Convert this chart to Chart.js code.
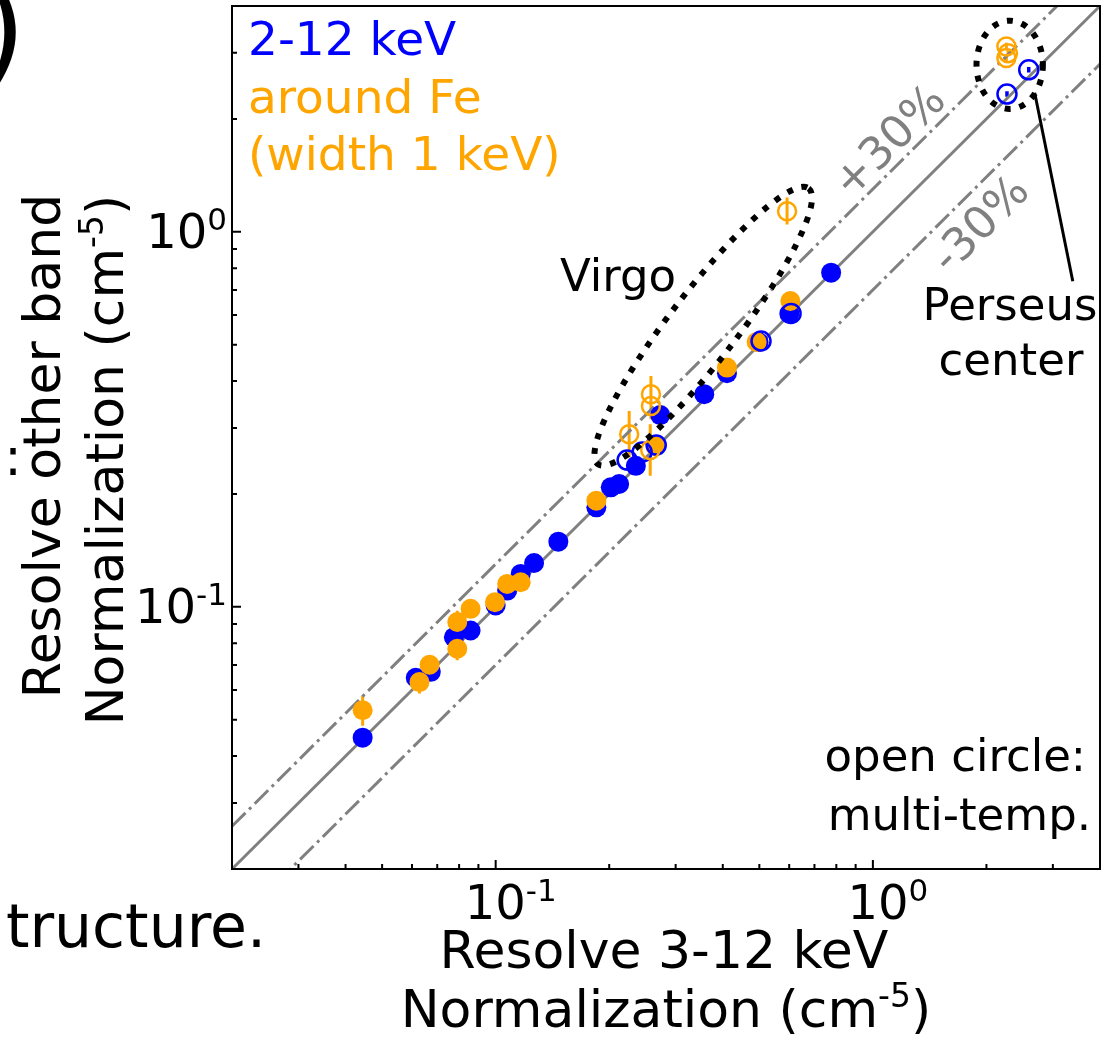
<!DOCTYPE html>
<html>
<head>
<meta charset="utf-8">
<script src="https://cdn.jsdelivr.net/npm/chart.js@4.4.1/dist/chart.umd.min.js"></script>
<style>
  html, body { margin: 0; padding: 0; background: #fff; }
  #wrap { width: 1105px; height: 1040px; position: relative; }
</style>
</head>
<body>
<div id="wrap"><canvas id="chart" width="1105" height="1040"></canvas></div>
<script>
// ---- data (x: 3-12 keV norm, y: other band norm) ----
const blueFilledX = [0.0444, 0.0614, 0.0673, 0.0775, 0.0858, 0.1000, 0.1073, 0.1165, 0.1264, 0.1466,
                     0.1849, 0.2019, 0.2125, 0.2353, 0.2731, 0.3573, 0.4104, 0.4978, 0.6005, 0.7750];
const blueFilledY = [0.0448, 0.0647, 0.0671, 0.0830, 0.0865, 0.1008, 0.1105, 0.1224, 0.1309, 0.1492,
                     0.1842, 0.2083, 0.2126, 0.2377, 0.3245, 0.3690, 0.4196, 0.5084, 0.6050, 0.7781];

const orangeFilledX = [0.0444, 0.0628, 0.0668, 0.0791, 0.0858, 0.0791, 0.0996, 0.1073, 0.1165, 0.1849, 0.2649, 0.4104, 0.4918, 0.6043];
const orangeFilledY = [0.0530, 0.0630, 0.0701, 0.0911, 0.0988, 0.0773, 0.1029, 0.1151, 0.1163, 0.1919, 0.2683, 0.4345, 0.5084, 0.6537];
const orangeFilledLo = [0.0482, 0.0587, 0.0680, 0.0848, 0.0960, 0.0720, 0.1000, 0.1120, 0.1130, 0.1870, 0.2600, 0.4230, 0.4950, 0.6370];
const orangeFilledHi = [0.0580, 0.0676, 0.0722, 0.0977, 0.1017, 0.0820, 0.1058, 0.1180, 0.1196, 0.1970, 0.2770, 0.4460, 0.5220, 0.6710];

const blueOpenX = [0.2231, 0.2445, 0.2665, 0.5052, 0.6069, 2.267, 2.589];
const blueOpenY = [0.2462, 0.2586, 0.2700, 0.5115, 0.6058, 2.330, 2.704];
const blueOpenLo = [0.2462, 0.2586, 0.2700, 0.5115, 0.6058, 2.290, 2.660];
const blueOpenHi = [0.2462, 0.2586, 0.2700, 0.5115, 0.6058, 2.370, 2.750];

const orangeOpenX = [0.2580, 0.2580, 0.2259, 0.2569, 0.5922, 2.259, 2.281, 2.259];
const orangeOpenY = [0.3690, 0.3434, 0.2887, 0.2618, 1.134, 3.119, 2.995, 2.905];
const orangeOpenLo = [0.3550, 0.3166, 0.2503, 0.2236, 1.0457, 3.050, 2.940, 2.850];
const orangeOpenHi = [0.4127, 0.3600, 0.3330, 0.3070, 1.234, 3.190, 3.050, 2.960];

const refLineX = [0.02, 4];
const refFactors = [1.0, 1.3, 0.7];

const axisMin = 0.02, axisMax = 4;
const majorTicks = [0.1, 1];
const majorExps = ['-1', '0'];

// annotation geometry in data coordinates (centre) and decades (half axes)
const virgoRing = { x: 0.355, y: 0.56, a: 0.46, b: 0.09, deg: -52.6 };
const perseusRing = { x: 2.305, y: 2.788, a: 0.088, b: 0.117, deg: 0 };
const pointerX = [2.685, 3.388];
const pointerY = [2.349, 0.738];

const FONT = '"DejaVu Sans", Verdana, sans-serif';
const BLUE = '#0000ff', ORANGE = '#ffa500', GREY = '#808080';

function pts(xs, ys) { return xs.map((x, i) => ({ x: x, y: ys[i] })); }

// draw text runs with superscripts
function drawRich(ctx, parts, x, y, size, align) {
  const supSize = Math.round(size * 0.64);
  let total = 0;
  const widths = parts.map(p => {
    ctx.font = (p.sup ? supSize : size) + 'px ' + FONT;
    const w = ctx.measureText(p.t).width;
    total += w;
    return w;
  });
  let cx = x;
  if (align === 'center') cx = x - total / 2;
  if (align === 'right') cx = x - total;
  ctx.textAlign = 'left';
  ctx.textBaseline = 'alphabetic';
  parts.forEach((p, i) => {
    ctx.font = (p.sup ? supSize : size) + 'px ' + FONT;
    ctx.fillText(p.t, cx, p.sup ? y - size * 0.38 : y);
    cx += widths[i];
  });
}

function drawErrors(chart, xs, lo, hi, color, width) {
  const sx = chart.scales.x, sy = chart.scales.y, ctx = chart.ctx, a = chart.chartArea;
  ctx.save();
  ctx.beginPath();
  ctx.rect(a.left, a.top, a.right - a.left, a.bottom - a.top);
  ctx.clip();
  ctx.strokeStyle = color;
  ctx.lineWidth = width;
  ctx.beginPath();
  xs.forEach((x, i) => {
    if (hi[i] === lo[i]) return;
    const px = sx.getPixelForValue(x);
    ctx.moveTo(px, sy.getPixelForValue(lo[i]));
    ctx.lineTo(px, sy.getPixelForValue(hi[i]));
  });
  ctx.stroke();
  ctx.restore();
}

function drawRing(chart, r) {
  const sx = chart.scales.x, sy = chart.scales.y, ctx = chart.ctx;
  const decX = sx.getPixelForValue(1) - sx.getPixelForValue(0.1);
  const cx = sx.getPixelForValue(r.x), cy = sy.getPixelForValue(r.y);
  ctx.save();
  ctx.strokeStyle = '#000';
  ctx.lineWidth = 6;
  ctx.setLineDash([6, 9]);
  ctx.beginPath();
  ctx.ellipse(cx, cy, r.a * decX, r.b * decX, r.deg * Math.PI / 180, 0, Math.PI * 2);
  ctx.stroke();
  ctx.restore();
}

const errorBars = {
  id: 'errorBars',
  beforeDatasetsDraw(chart) {
    drawErrors(chart, orangeFilledX, orangeFilledLo, orangeFilledHi, ORANGE, 3);
    drawErrors(chart, orangeOpenX, orangeOpenLo, orangeOpenHi, ORANGE, 3);
    drawErrors(chart, blueOpenX, blueOpenLo, blueOpenHi, BLUE, 3.5);
  },
  afterDatasetsDraw(chart) {
    drawRing(chart, virgoRing);
    drawRing(chart, perseusRing);
    const sx = chart.scales.x, sy = chart.scales.y, ctx = chart.ctx;
    ctx.save();
    ctx.strokeStyle = '#000';
    ctx.lineWidth = 3;
    ctx.beginPath();
    ctx.moveTo(sx.getPixelForValue(pointerX[0]), sy.getPixelForValue(pointerY[0]));
    ctx.lineTo(sx.getPixelForValue(pointerX[1]), sy.getPixelForValue(pointerY[1]));
    ctx.stroke();
    ctx.restore();
  }
};

const frameAndText = {
  id: 'frameAndText',
  afterDraw(chart) {
    const ctx = chart.ctx, a = chart.chartArea, sx = chart.scales.x, sy = chart.scales.y;
    ctx.save();
    // frame
    ctx.strokeStyle = '#000';
    ctx.lineWidth = 2;
    ctx.strokeRect(a.left, a.top, a.right - a.left, a.bottom - a.top);

    // inward ticks
    ctx.beginPath();
    for (let e = -2; e <= 0; e++) {
      for (let m = 1; m <= 9; m++) {
        const v = m * Math.pow(10, e);
        if (v < axisMin || v > axisMax) continue;
        const len = m === 1 ? 9 : 5;
        const px = sx.getPixelForValue(v);
        ctx.moveTo(px, a.bottom);
        ctx.lineTo(px, a.bottom - len);
        const py = sy.getPixelForValue(v);
        ctx.moveTo(a.left, py);
        ctx.lineTo(a.left + len, py);
      }
    }
    ctx.stroke();

    // tick labels
    ctx.fillStyle = '#000';
    majorTicks.forEach((v, i) => {
      const parts = [{ t: '10' }, { t: majorExps[i], sup: true }];
      drawRich(ctx, parts, sx.getPixelForValue(v) + 15, a.bottom + 50, 48, 'center');
      drawRich(ctx, parts, a.left - 5, sy.getPixelForValue(v) + 16, 48, 'right');
    });

    // axis titles
    drawRich(ctx, [{ t: 'Resolve 3-12 keV' }], 664, 968, 52, 'center');
    drawRich(ctx, [{ t: 'Normalization (cm' }, { t: '-5', sup: true }, { t: ')' }], 666, 1027, 52, 'center');
    ctx.save();
    ctx.translate(60, 446);
    ctx.rotate(-Math.PI / 2);
    drawRich(ctx, [{ t: 'Resolve other band' }], 0, 0, 52, 'center');
    ctx.restore();
    ctx.save();
    ctx.translate(123, 460);
    ctx.rotate(-Math.PI / 2);
    drawRich(ctx, [{ t: 'Normalization (cm' }, { t: '-5', sup: true }, { t: ')' }], 0, 0, 52, 'center');
    ctx.restore();

    // legend text
    ctx.font = '47px ' + FONT;
    ctx.textAlign = 'left';
    ctx.textBaseline = 'alphabetic';
    ctx.fillStyle = BLUE;
    ctx.fillText('2-12 keV', 248, 55);
    ctx.fillStyle = ORANGE;
    ctx.fillText('around Fe', 248, 113);
    ctx.fillText('(width 1 keV)', 248, 170);

    // annotations
    ctx.font = '45px ' + FONT;
    ctx.fillStyle = '#000';
    ctx.fillText('Virgo', 560, 291);
    ctx.textAlign = 'center';
    ctx.fillText('Perseus', 1010, 320);
    ctx.fillText('center', 1011, 375);
    ctx.textAlign = 'right';
    ctx.fillText('open circle:', 1086, 771);
    ctx.fillText('multi-temp.', 1091, 830);

    // percent labels along the lines
    ctx.fillStyle = GREY;
    ctx.textAlign = 'center';
    ctx.textBaseline = 'middle';
    [['+30%', 891, 143], ['-30%', 982, 226]].forEach(l => {
      ctx.save();
      ctx.translate(l[1], l[2]);
      ctx.rotate(-Math.PI / 4);
      ctx.fillText(l[0], 0, 0);
      ctx.restore();
    });

    // fragments of the neighbouring panel
    ctx.fillStyle = '#000';
    ctx.textBaseline = 'alphabetic';
    ctx.textAlign = 'right';
    ctx.font = '60px ' + FONT;
    ctx.fillText('tructure.', 266, 947);
    ctx.font = '120px ' + FONT;
    ctx.fillText(')', 26, 70);
    ctx.font = '52px ' + FONT;
    ctx.textAlign = 'center';
    ctx.fillText(':', 13, 475);
    ctx.restore();
  }
};

const lineStyles = [[], [19, 5, 3, 5], [19, 5, 3, 5]];

const hiddenAxis = {
  type: 'logarithmic', min: axisMin, max: axisMax,
  grid: { display: false, drawTicks: false, tickLength: 0 },
  border: { display: false },
  ticks: { display: false }
};

new Chart(document.getElementById('chart'), {
  type: 'scatter',
  data: {
    datasets: [
      { label: 'around Fe open', data: pts(orangeOpenX, orangeOpenY), order: 0,
        pointRadius: 9, pointBorderWidth: 2.5, pointBorderColor: ORANGE, pointBackgroundColor: 'rgba(0,0,0,0)' },
      { label: '2-12 keV open', data: pts(blueOpenX, blueOpenY), order: 1,
        pointRadius: 9.5, pointBorderWidth: 2.5, pointBorderColor: BLUE, pointBackgroundColor: 'rgba(0,0,0,0)' },
      { label: 'around Fe', data: pts(orangeFilledX, orangeFilledY), order: 2,
        pointRadius: 10, pointBorderWidth: 0, pointBackgroundColor: ORANGE, pointBorderColor: ORANGE },
      { label: '2-12 keV', data: pts(blueFilledX, blueFilledY), order: 3,
        pointRadius: 10, pointBorderWidth: 0, pointBackgroundColor: BLUE, pointBorderColor: BLUE }
    ].concat(refFactors.map((f, i) => ({
      label: 'ref ' + f,
      data: pts(refLineX, refLineX.map(x => x * f)),
      showLine: true, order: 10 + i, clip: 0,
      borderColor: GREY, borderWidth: 3, borderDash: lineStyles[i],
      pointRadius: 0
    })))
  },
  options: {
    responsive: false,
    animation: false,
    devicePixelRatio: 1,
    events: [],
    layout: { autoPadding: false, padding: { left: 232, right: 5, top: 6, bottom: 171 } },
    plugins: { legend: { display: false }, tooltip: { enabled: false } },
    scales: { x: hiddenAxis, y: hiddenAxis }
  },
  plugins: [errorBars, frameAndText]
});
</script>
</body>
</html>
